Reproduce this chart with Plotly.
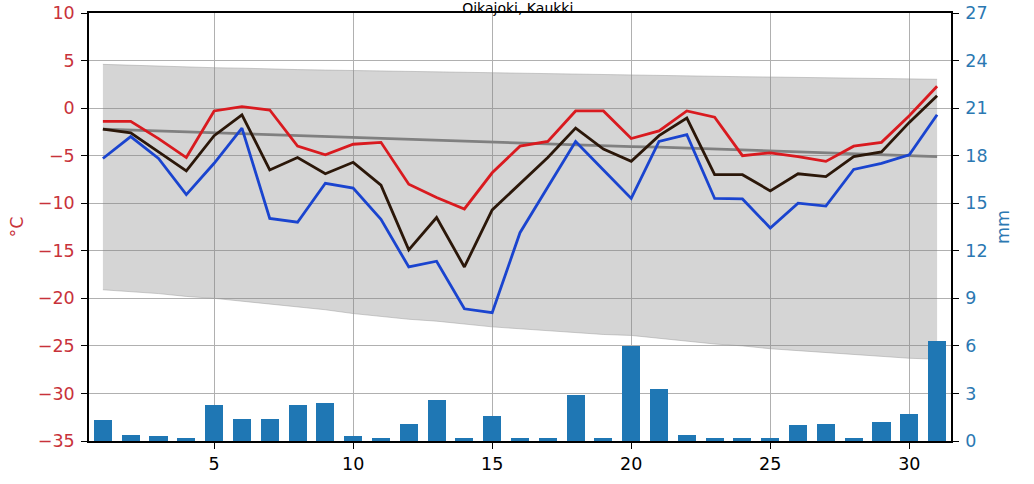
import plotly.graph_objects as go

# day of month
days = list(range(1, 32))

# daily temperatures (°C)
t_max = [-1.4, -1.4, -3.2, -5.2, -0.3, 0.15, -0.2, -4.0, -4.9, -3.8, -3.6,
         -8.0, -9.4, -10.6, -6.8, -4.0, -3.5, -0.3, -0.3, -3.2, -2.4,
         -0.3, -0.95, -5.0, -4.7, -5.1, -5.6, -4.0, -3.6, -0.8, 2.3]
t_mean = [-2.2, -2.6, -4.6, -6.6, -2.9, -0.7, -6.5, -5.2, -6.9, -5.7, -8.1,
          -14.9, -11.5, -16.7, -10.7, -8.0, -5.2, -2.1, -4.3, -5.6, -2.9,
          -1.05, -7.0, -7.0, -8.7, -6.9, -7.2, -5.1, -4.6, -1.5, 1.3]
t_min = [-5.3, -3.0, -5.3, -9.1, -5.8, -2.1, -11.6, -12.0, -7.9, -8.4, -11.7,
         -16.7, -16.1, -21.1, -21.5, -13.1, -8.3, -3.5, -6.5, -9.5, -3.5,
         -2.8, -9.5, -9.55, -12.6, -10.0, -10.3, -6.45, -5.8, -4.9, -0.7]

# long-term reference: mean and range
ref_mean = [-2.2, -2.3, -2.4, -2.5, -2.6, -2.7, -2.8, -2.85, -2.95, -3.05, -3.15,
            -3.25, -3.35, -3.45, -3.55, -3.65, -3.75, -3.85, -3.95, -4.05, -4.1,
            -4.2, -4.3, -4.4, -4.5, -4.6, -4.7, -4.8, -4.9, -5.0, -5.1]
ref_upper = [4.6, 4.5, 4.4, 4.35, 4.25, 4.2, 4.1, 4.05, 4.0, 3.95, 3.9,
             3.85, 3.8, 3.75, 3.68, 3.63, 3.6, 3.55, 3.52, 3.48, 3.45,
             3.4, 3.35, 3.3, 3.27, 3.22, 3.18, 3.14, 3.1, 3.06, 3.03]
ref_lower = [-19.1, -19.3, -19.5, -19.8, -20.0, -20.3, -20.6, -20.9, -21.2, -21.6, -21.9,
             -22.2, -22.4, -22.7, -23.0, -23.2, -23.4, -23.6, -23.8, -23.9, -24.2,
             -24.5, -24.8, -25.0, -25.3, -25.5, -25.7, -25.9, -26.1, -26.3, -26.4]

# daily precipitation (mm)
precip = [1.3, 0.4, 0.3, 0.2, 2.3, 1.4, 1.4, 2.3, 2.4, 0.3, 0.2,
          1.1, 2.6, 0.2, 1.6, 0.2, 0.2, 2.9, 0.2, 6.0, 3.3,
          0.4, 0.2, 0.2, 0.2, 1.0, 1.1, 0.2, 1.2, 1.7, 6.3]

red_txt = "#c8323a"
blue_txt = "#2b78b2"
grid = "#b0b0b0"
lw = 2.8

fig = go.Figure()

fig.add_trace(go.Scatter(x=days, y=ref_upper, mode="lines",
                         line=dict(color="rgba(150,150,150,0.45)", width=1),
                         showlegend=False, hoverinfo="skip"))
fig.add_trace(go.Scatter(x=days, y=ref_lower, mode="lines", fill="tonexty",
                         fillcolor="rgba(128,128,128,0.33)",
                         line=dict(color="rgba(150,150,150,0.45)", width=1),
                         showlegend=False, hoverinfo="skip"))
fig.add_trace(go.Scatter(x=days, y=ref_mean, mode="lines",
                         line=dict(color="#808080", width=lw), showlegend=False))
fig.add_trace(go.Scatter(x=days, y=t_max, mode="lines",
                         line=dict(color="#d91a1f", width=lw), showlegend=False))
fig.add_trace(go.Scatter(x=days, y=t_mean, mode="lines",
                         line=dict(color="#2b1709", width=lw), showlegend=False))
fig.add_trace(go.Scatter(x=days, y=t_min, mode="lines",
                         line=dict(color="#1a44cf", width=lw), showlegend=False))
fig.add_trace(go.Bar(x=days, y=precip, width=0.65, marker_color="#1f77b4",
                     marker_line_width=0, yaxis="y2", showlegend=False))

fig.update_layout(
    width=1034, height=484,
    margin=dict(l=89, r=83, t=13, b=43),
    paper_bgcolor="white", plot_bgcolor="white",
    font=dict(family="DejaVu Sans", size=17.5, color="black"),
    title=dict(text="Oikajoki, Kaukki.", x=0.5, xref="paper", xanchor="center",
               y=1, yref="paper", yanchor="bottom", pad=dict(b=0),
               font=dict(size=14, color="black")),
    bargap=0,
    xaxis=dict(range=[0.5, 31.5], tickvals=[5, 10, 15, 20, 25, 30],
               showgrid=True, gridcolor=grid, gridwidth=1, automargin=False,
               ticks="outside", ticklen=6, tickcolor="black",
               showline=True, linecolor="black", linewidth=1.5, mirror=True,
               zeroline=False),
    yaxis=dict(range=[-35, 10], dtick=5, showgrid=True, gridcolor=grid, gridwidth=1,
               automargin=False, ticklabelstandoff=3,
               ticks="outside", ticklen=6, tickcolor="black",
               tickfont=dict(color=red_txt),
               title=dict(text="°C", font=dict(color=red_txt, size=17.5), standoff=10),
               showline=True, linecolor="black", linewidth=1.5, zeroline=False),
    yaxis2=dict(range=[0, 27], dtick=3, overlaying="y", side="right", showgrid=False,
                automargin=False, ticklabelstandoff=3,
                ticks="outside", ticklen=6, tickcolor="black",
                tickfont=dict(color=blue_txt),
                title=dict(text="mm", font=dict(color=blue_txt, size=17.5), standoff=10),
                showline=True, linecolor="black", linewidth=1.5, zeroline=False),
)

# page without the default body margin so the figure fills the window
fig.write_html("out.html", config={"displayModeBar": False},
               post_script="document.body.style.margin='0';")
